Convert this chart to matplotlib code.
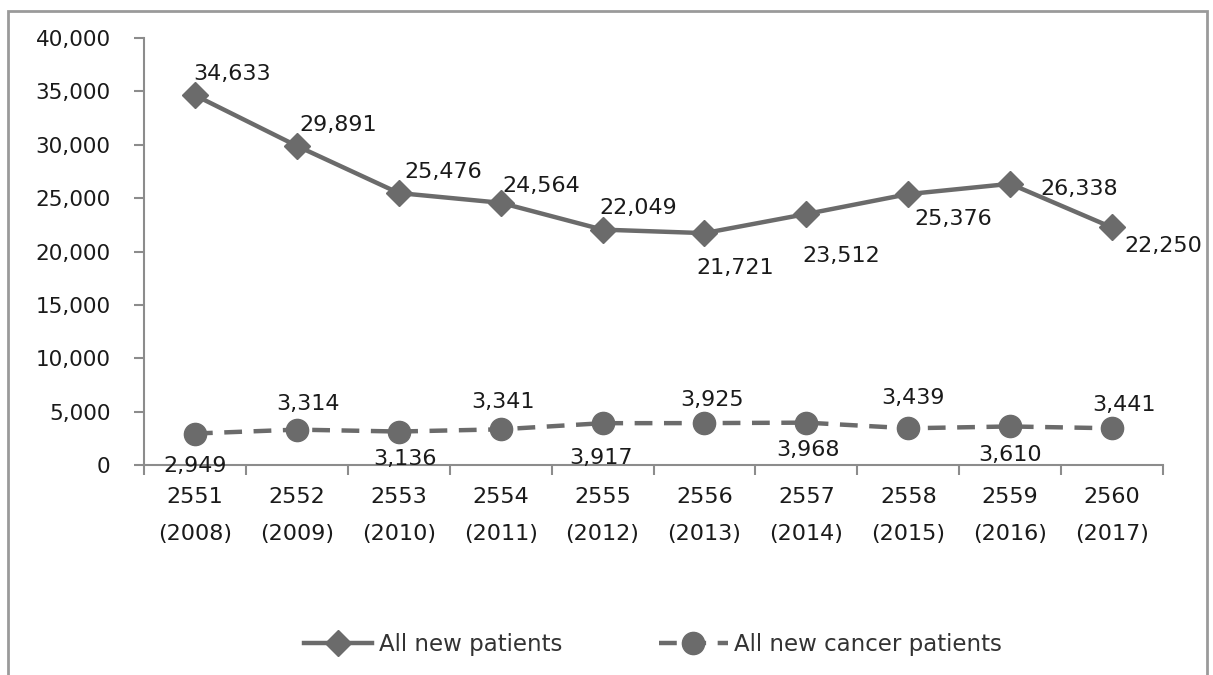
import matplotlib.pyplot as plt
from matplotlib.patches import Rectangle

years_be = ['2551', '2552', '2553', '2554', '2555', '2556', '2557', '2558', '2559', '2560']
years_ce = ['2008', '2009', '2010', '2011', '2012', '2013', '2014', '2015', '2016', '2017']
all_new = [34633, 29891, 25476, 24564, 22049, 21721, 23512, 25376, 26338, 22250]
cancer_new = [2949, 3314, 3136, 3341, 3917, 3925, 3968, 3439, 3610, 3441]

# label offsets in pixels (dx, dy, ha)
all_offsets = [(-2, 21, 'left'), (3, 21, 'left'), (6, 21, 'left'), (2, 17, 'left'),
               (-3, 22, 'left'), (-8, -35, 'left'), (-4, -42, 'left'), (6, -25, 'left'),
               (30, -5, 'left'), (12, -19, 'left')]
cancer_offsets = [(0, -32), (11, 26), (6, -27), (2, 27), (-2, -35),
                  (8, 23), (2, -27), (5, 30), (0, -29), (12, 23)]

line_col = '#6b6b6b'
text_col = '#1a1a1a'
axis_col = '#8c8c8c'

plt.rcParams['font.family'] = ['DejaVu Sans']

fig = plt.figure(figsize=(12.13, 6.75), dpi=100)
ax = fig.add_axes([144 / 1213, 1 - 465 / 675, (1163 - 144) / 1213, (465 - 38) / 675])

x = list(range(len(years_be)))
ax.plot(x, all_new, color=line_col, lw=3.2, marker='D', markersize=13,
        label='All new patients', clip_on=False, zorder=3)
ax.plot(x, cancer_new, color=line_col, lw=3.2, marker='o', markersize=16,
        dashes=(4, 2.6), label='All new cancer patients', clip_on=False, zorder=3)

for i, v in enumerate(all_new):
    dx, dy, ha = all_offsets[i]
    ax.annotate(f'{v:,}', xy=(i, v), xytext=(dx, dy), textcoords='offset pixels',
                ha=ha, va='center', fontsize=16, color=text_col, zorder=4)
for i, v in enumerate(cancer_new):
    dx, dy = cancer_offsets[i]
    ax.annotate(f'{v:,}', xy=(i, v), xytext=(dx, dy), textcoords='offset pixels',
                ha='center', va='center', fontsize=16, color=text_col, zorder=4)

ax.set_xlim(-0.5, len(x) - 0.5)
ax.set_ylim(0, 40000)
ax.set_yticks(range(0, 40001, 5000))
ax.set_yticklabels([f'{t:,}' for t in range(0, 40001, 5000)])
ax.set_xticks(x)
ax.set_xticklabels([f'{a}\n({b})' for a, b in zip(years_be, years_ce)])
ax.set_xticks([i - 0.5 for i in range(len(x) + 1)], minor=True)

ax.tick_params(axis='y', length=7, width=1.5, color=axis_col, pad=17,
               labelsize=15.5, labelcolor=text_col)
ax.tick_params(axis='x', which='major', length=0, pad=16, labelsize=16,
               labelcolor=text_col)
ax.tick_params(axis='x', which='minor', length=7, width=1.5, color=axis_col)
for lab in ax.get_xticklabels():
    lab.set_linespacing(2.05)

for s in ['top', 'right']:
    ax.spines[s].set_visible(False)
for s in ['left', 'bottom']:
    ax.spines[s].set_color(axis_col)
    ax.spines[s].set_linewidth(1.5)

leg = fig.legend(loc='center', bbox_to_anchor=(653 / 1213, 1 - 645 / 675), ncol=2,
                 frameon=False, fontsize=16.5, handlelength=3.0, columnspacing=4.2,
                 handletextpad=0.3)
for t in leg.get_texts():
    t.set_color('#333333')

fig.patches.append(Rectangle((8 / 1213, -0.1), 1199 / 1213, 1.1 - 11 / 675,
                             transform=fig.transFigure, fill=False,
                             edgecolor='#9a9a9a', lw=2))

fig.savefig('out.png', dpi=100)
